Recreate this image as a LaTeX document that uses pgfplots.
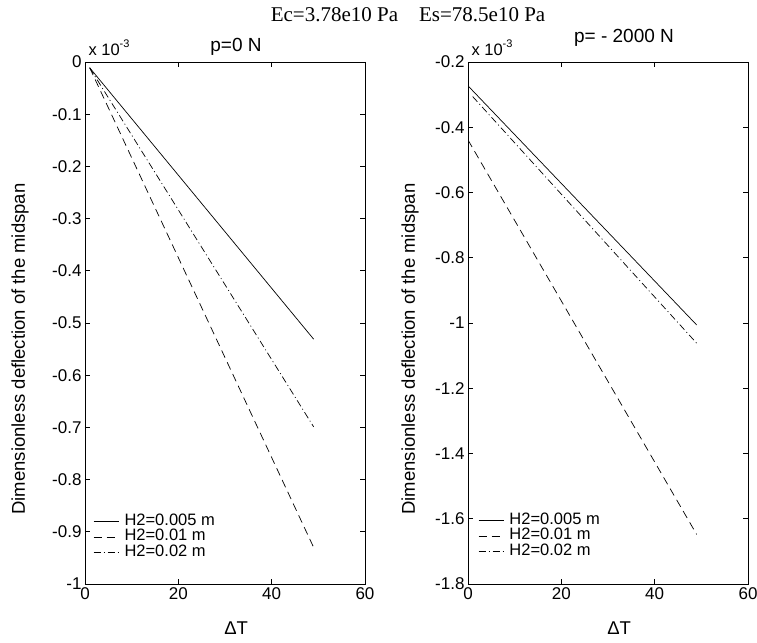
\documentclass[border=0pt]{standalone}
\usepackage{fontspec}
\setmainfont{Liberation Sans}
\newfontfamily\timesfont{Liberation Serif}
\usepackage{pgfplots}
\pgfplotsset{compat=1.18}

\newcommand{\xexp}{x 10\raisebox{0.5em}{\fontsize{11}{12}\selectfont -3}}

\pgfplotsset{
  panel/.style={
    scale only axis, width=280pt, height=522pt,
    clip mode=individual,
    xmin=0, xmax=60, xtick={0,20,40,60}, xticklabels={0,20,40,60},
    tick align=inside, major tick length=5pt,
    axis line style={line width=0.8pt},
    every tick/.style={black, line width=0.6pt},
    tick label style={font=\fontsize{17}{19}\selectfont},
    label style={font=\fontsize{18.5}{20}\selectfont},
    every axis title/.style={at={(axis description cs:0.5,1)}, anchor=base,
                             font=\fontsize{19}{21}\selectfont},
    xlabel={ΔT},
    ylabel={Dimensionless deflection of the midspan},
    xlabel style={at={(axis description cs:0.54,-0.084)}, anchor=center},
    legend style={draw=none, fill=none, font=\fontsize{16.5}{17}\selectfont,
                  anchor=north west, inner sep=0pt, row sep=0pt,
                  nodes={inner sep=0.5pt, text height=11pt, text depth=3.5pt},
                  /tikz/every odd column/.style={column sep=5pt}},
    legend cell align=left,
    legend image code/.code={\draw[#1] (0pt,0pt) -- (25pt,0pt);},
    no marks,
    every axis plot/.append style={black, line width=0.7pt},
  },
  dd/.style={dash pattern=on 7pt off 3pt on 1pt off 3pt},
  da/.style={dash pattern=on 8pt off 5pt},
}

\begin{document}
\begin{tikzpicture}
\useasboundingbox (0pt,0pt) rectangle (757pt,642pt);
\node[anchor=base, font=\timesfont\fontsize{21}{23}\selectfont] at (408pt,620pt) {Ec=3.78e10 Pa\quad Es=78.5e10 Pa};

\begin{axis}[panel, at={(85pt,58pt)}, anchor=south west,
    ymin=-1, ymax=0,
    ytick={0,-0.1,-0.2,-0.3,-0.4,-0.5,-0.6,-0.7,-0.8,-0.9,-1},
    yticklabels={0,-0.1,-0.2,-0.3,-0.4,-0.5,-0.6,-0.7,-0.8,-0.9,-1},
    ylabel style={at={(axis description cs:-0.232,0.45)}, anchor=center},
    title={p=0 N}, title style={xshift=11pt, yshift=10pt},
    legend style={at={(axis description cs:0.029,0.135)}},
  ]
  \addplot[black] coordinates {(1,-0.011) (49,-0.531)};
  \addplot[black, da] coordinates {(1,-0.011) (49,-0.930)};
  \addplot[black, dd] coordinates {(1,-0.011) (49,-0.699)};
  \legend{H2=0.005 m, H2=0.01 m, H2=0.02 m}
  \node[anchor=base west, font=\fontsize{16.5}{18}\selectfont] at (axis description cs:0,1) [yshift=6pt] {\xexp};
\end{axis}

\begin{axis}[panel, at={(468pt,58pt)}, anchor=south west,
    ymin=-1.8, ymax=-0.2,
    ytick={-0.2,-0.4,-0.6,-0.8,-1,-1.2,-1.4,-1.6,-1.8},
    yticklabels={-0.2,-0.4,-0.6,-0.8,-1,-1.2,-1.4,-1.6,-1.8},
    ylabel style={at={(axis description cs:-0.207,0.45)}, anchor=center},
    title={p= - 2000 N}, title style={xshift=16pt, yshift=19pt},
    legend style={at={(axis description cs:0.036,0.137)}},
  ]
  \addplot[black] coordinates {(0,-0.273) (49,-1.006)};
  \addplot[black, da] coordinates {(0,-0.439) (49,-1.648)};
  \addplot[black, dd] coordinates {(1,-0.306) (49,-1.062)};
  \legend{H2=0.005 m, H2=0.01 m, H2=0.02 m}
  \node[anchor=base west, font=\fontsize{16.5}{18}\selectfont] at (axis description cs:0,1) [yshift=6pt] {\xexp};
\end{axis}
\end{tikzpicture}
\end{document}
